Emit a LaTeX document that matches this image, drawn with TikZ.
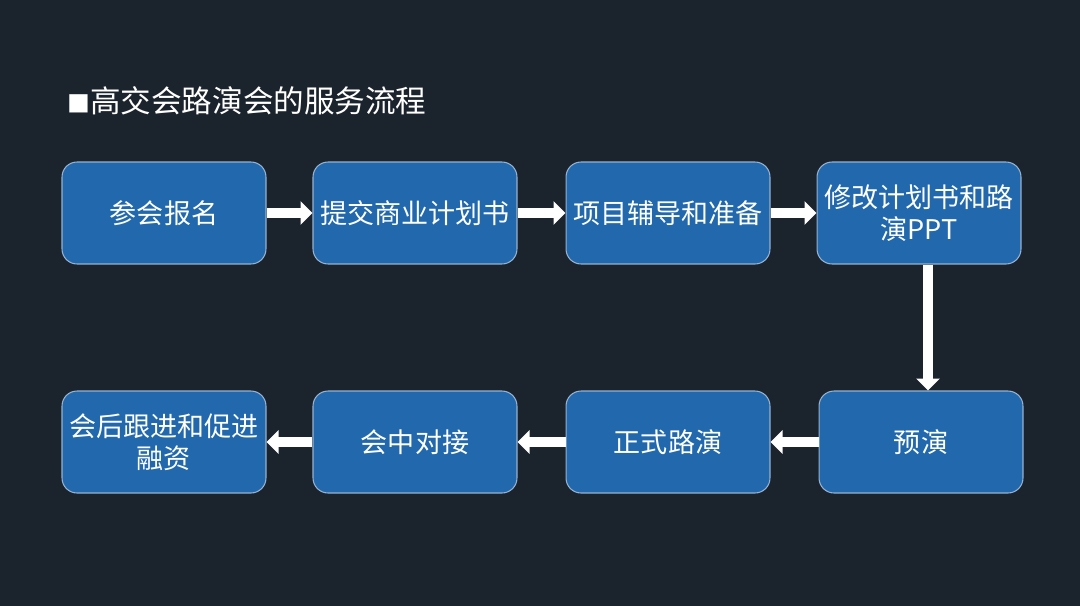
\documentclass[tikz,border=0pt]{standalone}
\usepackage{fontspec}
\setmainfont{Noto Sans CJK SC}
\usetikzlibrary{positioning,arrows.meta}
\definecolor{bgdark}{RGB}{27,35,45}
\definecolor{boxblue}{RGB}{33,104,172}
\definecolor{boxline}{RGB}{150,178,208}
\begin{document}
\begin{tikzpicture}[x=0.02cm,y=0.02cm,
	stepbox/.style={draw=boxline,line width=0.6pt,rounded corners=0.3cm,fill=boxblue,text=white,
		minimum width=4.08cm,minimum height=2.04cm,align=center,inner sep=2pt,font=\fontsize{15.4}{18}\selectfont},
	flow/.style={color=white,line width=0.2cm,-{Triangle[width=0.46cm,length=0.24cm,fill=white]}}]
	\fill[bgdark] (0,0) rectangle (1080,-606);
	\useasboundingbox (0,0) rectangle (1080,-606);
	\node[anchor=west,text=white,font=\fontsize{17.4}{20}\selectfont,inner sep=0pt] (title) at (67,-101) {{\fontsize{13}{14}\selectfont ■}高交会路演会的服务流程};
	\node[stepbox] (signup) at (164,-213) {参会报名};
	\node[stepbox,right=0.92cm of signup] (submit) {提交商业计划书};
	\node[stepbox,right=0.96cm of submit] (coach) {项目辅导和准备};
	\node[stepbox,right=0.92cm of coach] (revise) {修改计划书和路\\演PPT};
	\node[stepbox,below=2.52cm of revise,xshift=0.04cm] (rehearse) {预演};
	\node[stepbox,left=0.96cm of rehearse] (roadshow) {正式路演};
	\node[stepbox,left=0.96cm of roadshow] (meet) {会中对接};
	\node[stepbox,left=0.92cm of meet] (follow) {会后跟进和促进\\融资};
	\path[flow] (signup) edge (submit)
	(submit) edge (coach)
	(coach) edge (revise)
	([xshift=0.18cm]revise.south) edge ([xshift=0.14cm]rehearse.north)
	(rehearse) edge (roadshow)
	(roadshow) edge (meet)
	(meet) edge (follow);
\end{tikzpicture}
\end{document}
